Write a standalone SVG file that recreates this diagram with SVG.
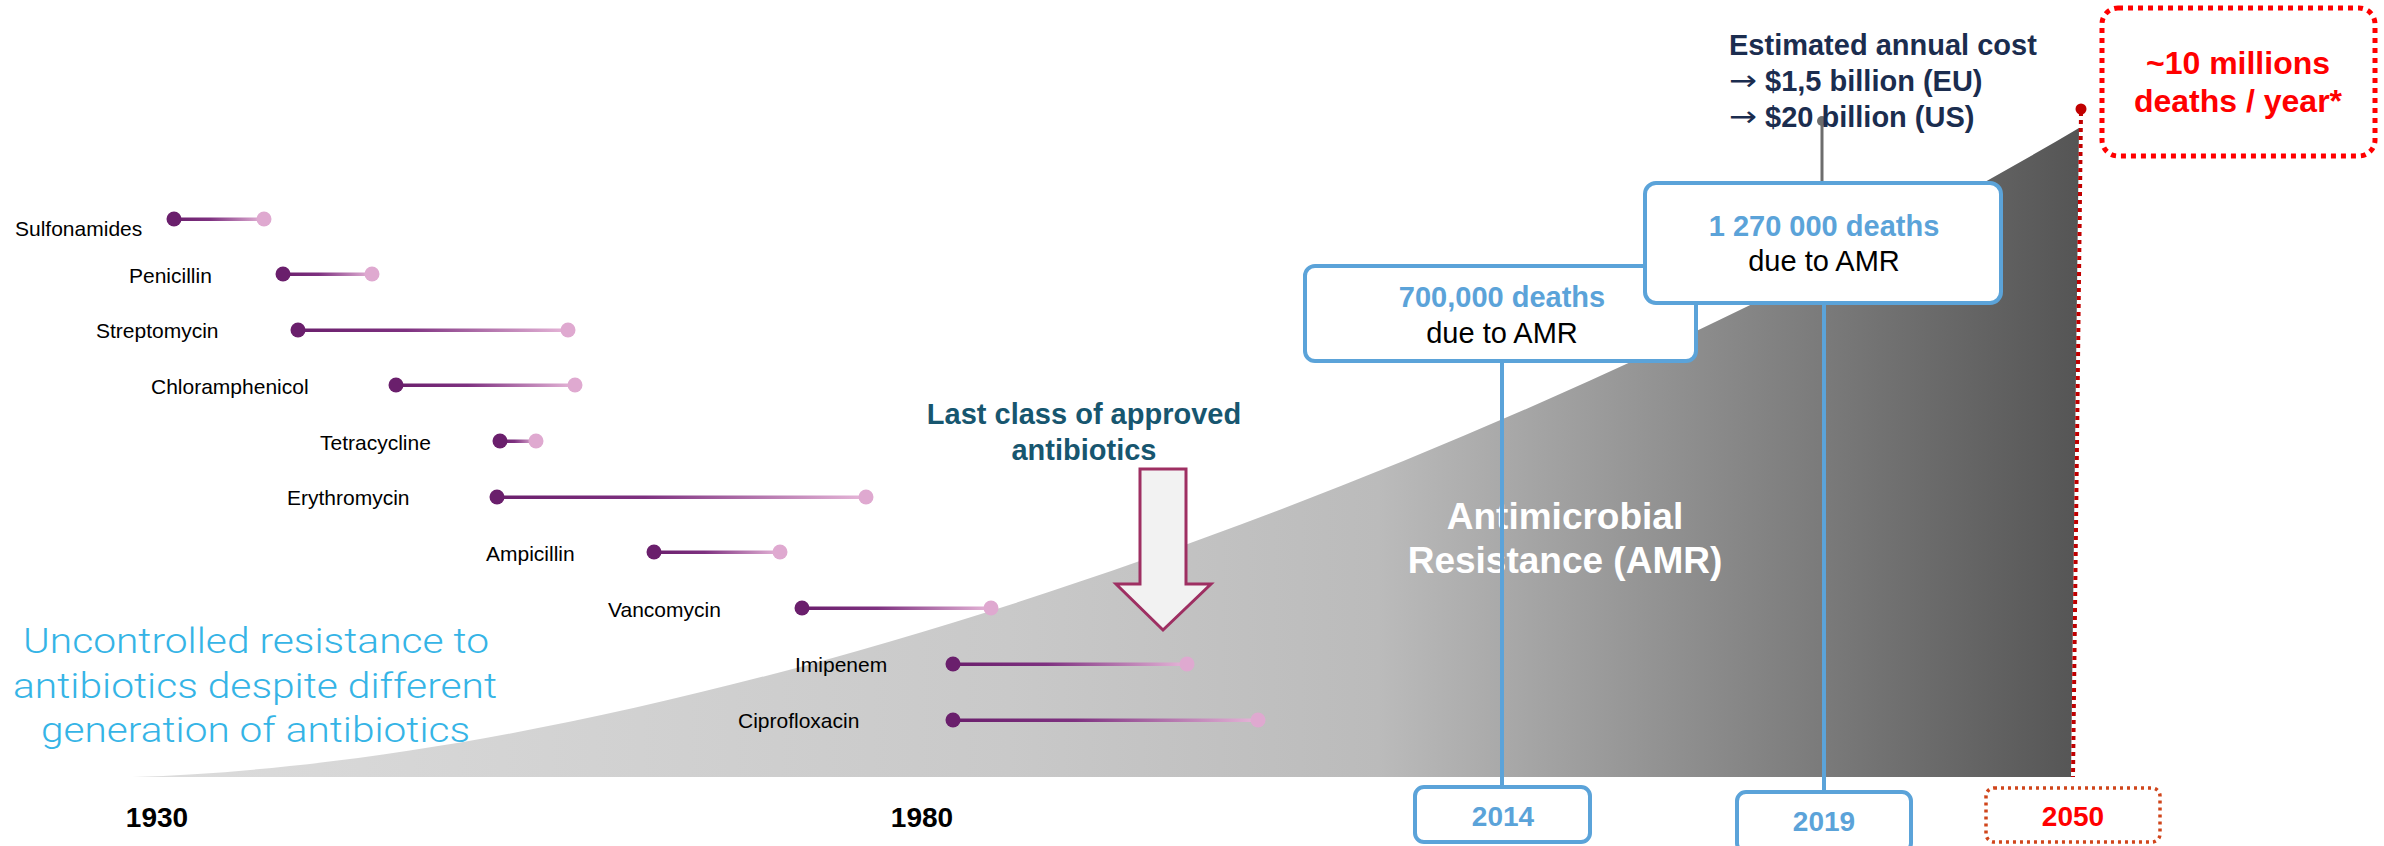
<svg xmlns="http://www.w3.org/2000/svg" width="2384" height="846" viewBox="0 0 2384 846">
<defs>
<style>
.drug{font-family:"Liberation Sans",Arial,sans-serif;font-size:21px;fill:#000}
.year{font-family:"Liberation Sans",Arial,sans-serif;font-size:28px;font-weight:bold;text-anchor:middle}
.bx{fill:#fff;stroke:#5BA3D9;stroke-width:4}
.blue{font-family:"Liberation Sans",Arial,sans-serif;font-size:29px;font-weight:bold;fill:#5BA3D9;text-anchor:middle}
.blk{font-family:"Liberation Sans",Arial,sans-serif;font-size:29px;fill:#000;text-anchor:middle}
.d1{fill:#6A1F6C}
.d2{fill:#DFA9D0}
.bar{fill:url(#pg)}
.vline{stroke:#5BA3D9;stroke-width:4;fill:none}
.arr{font-family:"DejaVu Sans",sans-serif;font-weight:normal;font-size:28px}
</style>
<linearGradient id="pg" x1="0" y1="0" x2="1" y2="0">
<stop offset="0" stop-color="#6A1F6C"/>
<stop offset="0.4" stop-color="#7E3180"/>
<stop offset="1" stop-color="#E6B6D8"/>
</linearGradient>
<linearGradient id="gg" gradientUnits="userSpaceOnUse" x1="133" y1="0" x2="2079" y2="0">
<stop offset="0" stop-color="#DCDCDC"/>
<stop offset="0.45" stop-color="#C9C9C9"/>
<stop offset="0.64" stop-color="#BBBBBB"/>
<stop offset="0.87" stop-color="#7A7A7A"/>
<stop offset="1" stop-color="#555555"/>
</linearGradient>
</defs>
<rect width="2384" height="846" fill="#fff"/>

<g id="amr-area">
<path d="M133,777 C700,760 1500,470 2079,128 L2071,777 Z" fill="url(#gg)"/>
<text x="1565" y="529" font-family="Liberation Sans,Arial,sans-serif" font-size="37" font-weight="bold" fill="#fff" text-anchor="middle">Antimicrobial</text>
<text x="1565" y="573" font-family="Liberation Sans,Arial,sans-serif" font-size="37" font-weight="bold" fill="#fff" text-anchor="middle">Resistance (AMR)</text>
</g>

<g id="uncontrolled-text" font-family="Roboto,'Open Sans',sans-serif" font-weight="300" font-size="35" fill="#35B4E6">
<text x="23" y="653" textLength="466" lengthAdjust="spacingAndGlyphs">Uncontrolled resistance to</text>
<text x="13" y="698" textLength="484" lengthAdjust="spacingAndGlyphs">antibiotics despite different</text>
<text x="41" y="742" textLength="429" lengthAdjust="spacingAndGlyphs">generation of antibiotics</text>
</g>

<g id="drugs">
<g id="sulfonamides"><text class="drug" x="15" y="236">Sulfonamides</text><rect class="bar" x="174" y="217.5" width="90" height="3.5"/><circle class="d1" cx="174" cy="219" r="7.5"/><circle class="d2" cx="264" cy="219" r="7.5"/></g>
<g id="penicillin"><text class="drug" x="129" y="283">Penicillin</text><rect class="bar" x="283" y="272.5" width="89" height="3.5"/><circle class="d1" cx="283" cy="274" r="7.5"/><circle class="d2" cx="372" cy="274" r="7.5"/></g>
<g id="streptomycin"><text class="drug" x="96" y="338">Streptomycin</text><rect class="bar" x="298" y="328.5" width="270" height="3.5"/><circle class="d1" cx="298" cy="330" r="7.5"/><circle class="d2" cx="568" cy="330" r="7.5"/></g>
<g id="chloramphenicol"><text class="drug" x="151" y="394">Chloramphenicol</text><rect class="bar" x="396" y="383.5" width="179" height="3.5"/><circle class="d1" cx="396" cy="385" r="7.5"/><circle class="d2" cx="575" cy="385" r="7.5"/></g>
<g id="tetracycline"><text class="drug" x="320" y="450">Tetracycline</text><rect class="bar" x="500" y="439.5" width="36" height="3.5"/><circle class="d1" cx="500" cy="441" r="7.5"/><circle class="d2" cx="536" cy="441" r="7.5"/></g>
<g id="erythromycin"><text class="drug" x="287" y="505">Erythromycin</text><rect class="bar" x="497" y="495.5" width="369" height="3.5"/><circle class="d1" cx="497" cy="497" r="7.5"/><circle class="d2" cx="866" cy="497" r="7.5"/></g>
<g id="ampicillin"><text class="drug" x="486" y="561">Ampicillin</text><rect class="bar" x="654" y="550.5" width="126" height="3.5"/><circle class="d1" cx="654" cy="552" r="7.5"/><circle class="d2" cx="780" cy="552" r="7.5"/></g>
<g id="vancomycin"><text class="drug" x="608" y="617">Vancomycin</text><rect class="bar" x="802" y="606.5" width="189" height="3.5"/><circle class="d1" cx="802" cy="608" r="7.5"/><circle class="d2" cx="991" cy="608" r="7.5"/></g>
<g id="imipenem"><text class="drug" x="795" y="672">Imipenem</text><rect class="bar" x="953" y="662.5" width="234" height="3.5"/><circle class="d1" cx="953" cy="664" r="7.5"/><circle class="d2" cx="1187" cy="664" r="7.5"/></g>
<g id="ciprofloxacin"><text class="drug" x="738" y="728">Ciprofloxacin</text><rect class="bar" x="953" y="718.5" width="305" height="3.5"/><circle class="d1" cx="953" cy="720" r="7.5"/><circle class="d2" cx="1258" cy="720" r="7.5"/></g>
</g>

<g id="last-class">
<text x="1084" y="424" font-family="Liberation Sans,Arial,sans-serif" font-size="29" font-weight="bold" fill="#17566F" text-anchor="middle">Last class of approved</text>
<text x="1084" y="460" font-family="Liberation Sans,Arial,sans-serif" font-size="29" font-weight="bold" fill="#17566F" text-anchor="middle">antibiotics</text>
<polygon points="1140,469 1186,469 1186,584 1211,584 1163,630 1116,584 1140,584" fill="#F2F2F2" stroke="#9E2F62" stroke-width="3"/>
</g>

<g id="connectors">
<line class="vline" x1="1502" y1="361" x2="1502" y2="787"/>
<line class="vline" x1="1824" y1="303" x2="1824" y2="792"/>
<line x1="1822" y1="121" x2="1822" y2="183" stroke="#6D6D6D" stroke-width="3"/>
<circle cx="1822" cy="121" r="5" fill="#6D6D6D"/>
<line x1="2081" y1="112" x2="2073" y2="777" stroke="#C00000" stroke-width="4" stroke-dasharray="4 4"/>
<circle cx="2081" cy="109" r="5.5" fill="#C00000"/>
</g>

<g id="box-700k">
<rect class="bx" x="1305" y="266" width="391" height="95" rx="10"/>
<text class="blue" x="1502" y="307">700,000 deaths</text>
<text class="blk" x="1502" y="343">due to AMR</text>
</g>

<g id="box-1270k">
<rect class="bx" x="1645" y="183" width="356" height="120" rx="11"/>
<text class="blue" x="1824" y="236">1 270 000 deaths</text>
<text class="blk" x="1824" y="271">due to AMR</text>
</g>

<g id="cost" font-family="Liberation Sans,Arial,sans-serif" font-size="29" font-weight="bold" fill="#1B2D4F">
<text x="1729" y="55">Estimated annual cost</text>
<text class="arr" x="1729" y="90" textLength="28" lengthAdjust="spacingAndGlyphs">→</text>
<text x="1765" y="91">$1,5 billion (EU)</text>
<text class="arr" x="1729" y="126" textLength="28" lengthAdjust="spacingAndGlyphs">→</text>
<text x="1765" y="127">$20 billion (US)</text>
</g>

<g id="box-10m">
<rect x="2102" y="8" width="273" height="148" rx="16" fill="none" stroke="#FF0000" stroke-width="5" stroke-dasharray="5 5"/>
<text x="2238" y="74" font-family="Liberation Sans,Arial,sans-serif" font-size="32" font-weight="bold" fill="#FF0000" text-anchor="middle">~10 millions</text>
<text x="2238" y="112" font-family="Liberation Sans,Arial,sans-serif" font-size="32" font-weight="bold" fill="#FF0000" text-anchor="middle">deaths / year*</text>
</g>

<g id="years">
<text class="year" x="157" y="827" fill="#000">1930</text>
<text class="year" x="922" y="827" fill="#000">1980</text>
<g id="y2014"><rect class="bx" x="1415" y="787" width="175" height="55" rx="9"/><text class="year" x="1503" y="826" fill="#5BA3D9">2014</text></g>
<g id="y2019"><rect class="bx" x="1737" y="792" width="174" height="60" rx="9"/><text class="year" x="1824" y="831" fill="#5BA3D9">2019</text></g>
<g id="y2050"><rect x="1986" y="788" width="174" height="54" rx="8" fill="#fff" stroke="#D0451B" stroke-width="3.5" stroke-dasharray="3 4"/><text class="year" x="2073" y="826" fill="#FF0000">2050</text></g>
</g>
</svg>
